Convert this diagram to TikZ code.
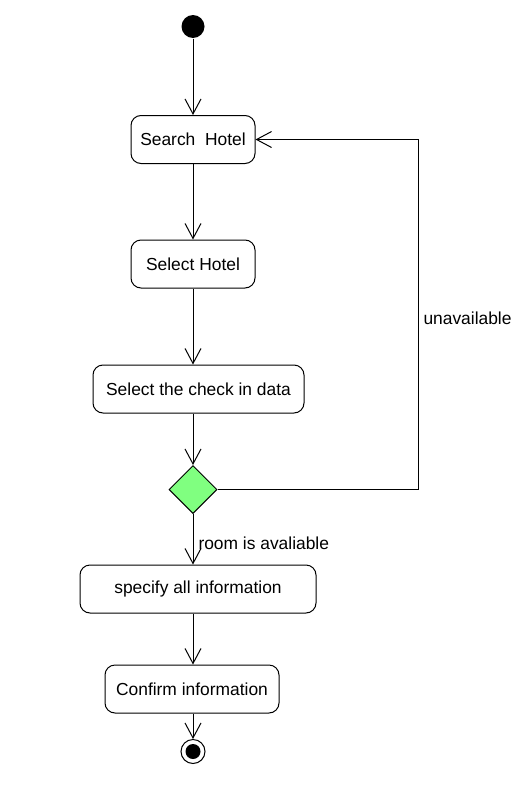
\documentclass[tikz,border=0pt]{standalone}
\usepackage{fontspec}
\setmainfont{Liberation Sans}
\usetikzlibrary{arrows.meta,shapes.geometric}
\begin{document}
\begin{tikzpicture}[x=1pt,y=-1pt,
  font=\fontsize{17.4}{20}\selectfont,
  line width=1pt,
  act/.style={draw, rounded corners=10pt, inner sep=0pt, minimum height=48pt},
  flow/.style={-{Straight Barb[length=15pt,width=16pt]}},
  lbl/.style={anchor=west, inner sep=0pt}]
\useasboundingbox (0,0) rectangle (521,795);
\node[circle, fill=black, minimum size=23pt, inner sep=0pt] (start) at (193,26.5) {};
\node[act, minimum width=124pt] (search) at (193,139.5) {Search\ \ Hotel};
\node[act, minimum width=124pt] (select) at (193,264) {Select Hotel};
\node[act, minimum width=211pt] (check) at (198.5,389) {Select the check in data};
\node[diamond, draw, fill={rgb,255:red,128;green,255;blue,128}, minimum width=48pt, minimum height=48pt, inner sep=0pt] (dec) at (193,489.5) {};
\node[act, minimum width=236pt] (spec) at (198,589) {specify all information};
\node[act, minimum width=174pt] (conf) at (192,689) {Confirm information};
\node[circle, draw, minimum size=24pt, inner sep=0pt] (end) at (193,751.5) {};
\node[circle, fill=black, minimum size=15pt, inner sep=0pt] (endin) at (193,751.5) {};
\coordinate (loop) at (418,489.5);
\node[lbl] (unav) at (423,318) {unavailable};
\node[lbl] (avail) at (198,543) {room is avaliable};
\draw[flow] (start) -- (search);
\draw[flow] (search) -- (select);
\draw[flow] (select.south) -- (select.south |- check.north);
\draw[flow] (check.south -| dec) -- (dec.north);
\draw[flow] (dec.east) -- (loop) |- (search.east);
\draw[flow] (dec.south) -- (dec.south |- spec.north);
\draw[flow] (spec.south -| dec) -- (conf.north -| dec);
\draw[flow] (conf.south -| end) -- (end.north);
\end{tikzpicture}
\end{document}
